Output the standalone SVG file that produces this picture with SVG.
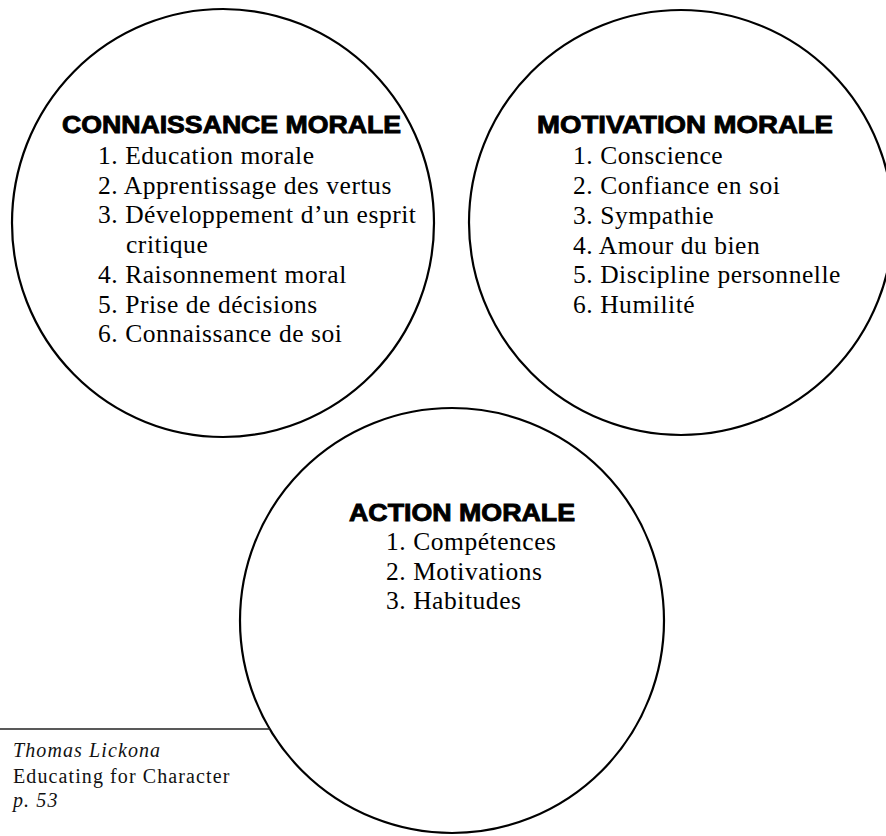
<svg xmlns="http://www.w3.org/2000/svg" width="886" height="836" viewBox="0 0 886 836">
<style>
.circ{fill:none;stroke:#000;stroke-width:2.2}
.title{font-family:"Liberation Sans",Arial,sans-serif;font-weight:bold;font-size:24.5px;fill:#000;stroke:#000;stroke-width:0.9}
.item{font-family:"Liberation Serif","Times New Roman",serif;font-size:25.5px;letter-spacing:0.55px;fill:#000}
.foot{font-family:"Liberation Serif","Times New Roman",serif;font-size:20px;letter-spacing:1.1px;fill:#111}
.it{font-style:italic}
.rule{stroke:#222;stroke-width:1.3}
</style>
<rect width="886" height="836" fill="#fff"/>
<g id="connaissance">
<ellipse class="circ" cx="223" cy="223" rx="211" ry="214"/>
<text class="title" x="62" y="133" textLength="339" lengthAdjust="spacingAndGlyphs">CONNAISSANCE MORALE</text>
<text class="item" x="98" y="164">1. Education morale</text>
<text class="item" x="98" y="194">2. Apprentissage des vertus</text>
<text class="item" x="98" y="223">3. Développement d’un esprit</text>
<text class="item" x="126" y="253">critique</text>
<text class="item" x="98" y="283">4. Raisonnement moral</text>
<text class="item" x="98" y="313">5. Prise de décisions</text>
<text class="item" x="98" y="342">6. Connaissance de soi</text>
</g>
<g id="motivation">
<ellipse class="circ" cx="681" cy="222.5" rx="212" ry="212.5"/>
<text class="title" x="537" y="133" textLength="296" lengthAdjust="spacingAndGlyphs">MOTIVATION MORALE</text>
<text class="item" x="573" y="164">1. Conscience</text>
<text class="item" x="573" y="194">2. Confiance en soi</text>
<text class="item" x="573" y="224">3. Sympathie</text>
<text class="item" x="573" y="254">4. Amour du bien</text>
<text class="item" x="573" y="283">5. Discipline personnelle</text>
<text class="item" x="573" y="313">6. Humilité</text>
</g>
<g id="action">
<ellipse class="circ" cx="452" cy="620.5" rx="212" ry="212.5"/>
<text class="title" x="349" y="521" textLength="226" lengthAdjust="spacingAndGlyphs">ACTION MORALE</text>
<text class="item" x="386" y="550">1. Compétences</text>
<text class="item" x="386" y="580">2. Motivations</text>
<text class="item" x="386" y="609">3. Habitudes</text>
</g>
<g id="connectors"></g>
<g id="source">
<line class="rule" x1="0" y1="729" x2="270" y2="729"/>
<text class="foot it" x="13" y="757">Thomas Lickona</text>
<text class="foot" x="13" y="783">Educating for Character</text>
<text class="foot it" x="13" y="807">p. 53</text>
</g>
</svg>
